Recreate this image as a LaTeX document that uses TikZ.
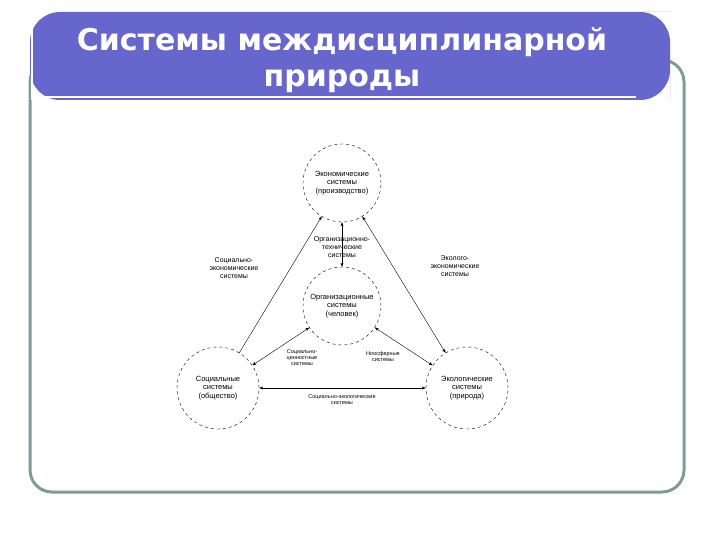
\documentclass[tikz,border=0pt]{standalone}
\usepackage{fontspec}
\setmainfont{Liberation Sans}
\newfontfamily\titlefont{DejaVu Sans}
\usetikzlibrary{arrows.meta}
\definecolor{ban}{HTML}{6666CC}
\definecolor{frm}{HTML}{7F9A9A}
\begin{document}
\begin{tikzpicture}[x=1pt,y=-1pt,
 circ/.style={circle,draw,dashed,minimum size=78pt,align=center,font=\fontsize{7.5}{8.5}\selectfont,inner sep=0pt},
 lab/.style={align=center,font=\fontsize{7}{8}\selectfont,inner sep=1pt},
 sm/.style={align=center,font=\fontsize{5.5}{6}\selectfont,inner sep=1pt},
 con/.style={thin,-{Stealth[length=4pt,width=3pt]}},
 bcon/.style={thin,{Stealth[length=4pt,width=3pt]}-{Stealth[length=4pt,width=3pt]}}]
\useasboundingbox (0,0) rectangle (720,540);
\fill[white] (0,0) rectangle (720,540);
\draw[frm,line width=3pt,rounded corners=22pt] (30,60) rectangle (684,492);
\fill[ban,rounded corners=30pt] (30,12) -- (640,12) -- (670,12) -- (670,70) -- (670,100) -- (30,100) -- cycle;
\fill[white] (31,14) rectangle (33,100);
\draw[white,line width=1.5pt] (38,97) -- (636,97);
\node[white,font=\titlefont\fontsize{30}{36}\selectfont\bfseries,align=center] (t) at (342,60) {Системы междисциплинарной\\природы};
\node[circ] (e) at (342,183) {Экономические\\системы\\(производство)};
\node[circ] (o) at (342,306) {Организационные\\системы\\(человек)};
\node[circ,minimum size=82pt] (s) at (218,388) {Социальные\\системы\\(общество)};
\node[circ,minimum size=82pt] (n) at (467,388) {Экологические\\системы\\(природа)};
\draw[con] (s) -- (e);
\draw[bcon] (n) -- (e);
\draw[bcon] (o) -- (e);
\draw[bcon] (o) -- (s);
\draw[bcon] (o) -- (n);
\draw[bcon] (s) -- (n);
\node[lab] (l1) at (342,247) {Организационно-\\технические\\системы};
\node[lab,fill=white] (l2) at (234,268) {Социально-\\экономические\\системы};
\node[lab] (l3) at (455,266) {Эколого-\\экономические\\системы};
\node[sm] (l4) at (302,358) {Социально-\\ценностные\\системы};
\node[sm] (l5) at (383,357) {Ноосферные\\системы};
\node[sm] (l6) at (342,400) {Социально-экологические\\системы};
\end{tikzpicture}
\end{document}
